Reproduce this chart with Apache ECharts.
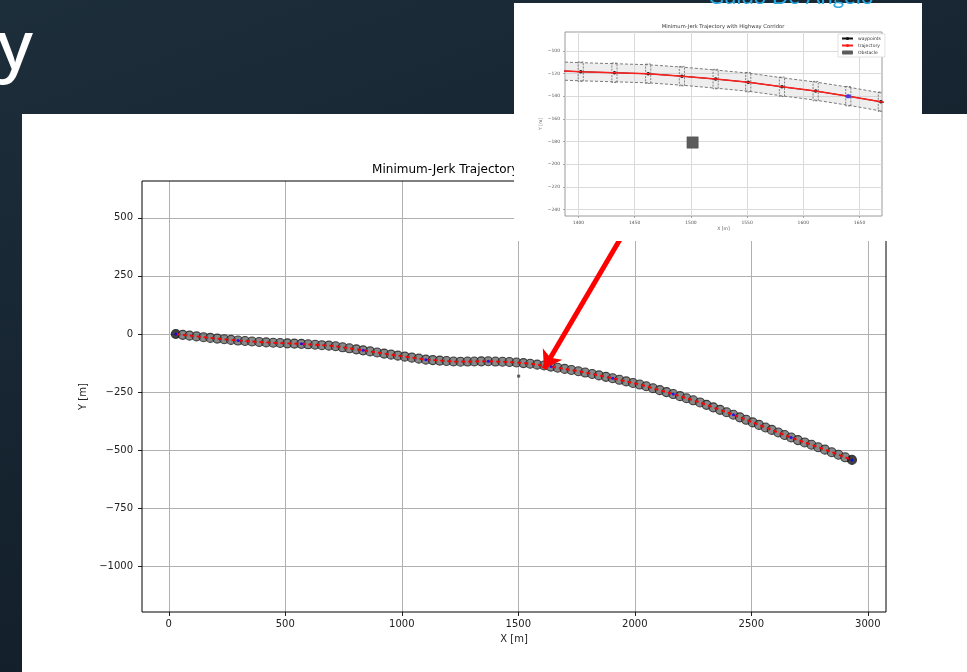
<!DOCTYPE html>
<html><head><meta charset="utf-8">
<script src="https://cdn.jsdelivr.net/npm/echarts@6/dist/echarts.min.js"></script>
<style>
html,body{margin:0;padding:0;width:967px;height:672px;overflow:hidden;background:linear-gradient(160deg,#1d2e3b 0%,#15232f 50%,#0f1b25 100%);}
#panel{position:absolute;left:22px;top:114px;width:945px;height:558px;background:#fff;}
#chart{position:absolute;left:0;top:0;width:967px;height:672px;}
</style></head><body>
<div id="panel"></div><div id="chart"></div>
<script>
// ---- data ----
const wpX = [30,60,89,119,149,178,208,238,267,
  297,327,357,388,418,448,478,509,539,
  569,598,628,657,687,716,746,775,805,
  834,864,894,924,954,983,1013,1043,1073,
  1103,1133,1163,1192,1222,1252,1282,1311,1341,
  1371,1402,1432,1462,1492,1522,1551,1581,1611,
  1640,1669,1699,1728,1758,1787,1817,1846,1876,
  1905,1934,1963,1992,2021,2049,2078,2107,2136,
  2165,2194,2222,2251,2280,2308,2337,2366,2394,
  2423,2451,2478,2506,2533,2561,2588,2616,2643,
  2671,2700,2729,2758,2787,2816,2845,2874,2903,2932];
const wpY = [0,-3.4,-6.8,-10.2,-13.5,-16.6,-19.5,-22.4,-25.1,
  -28,-30,-32,-34,-36,-37.6,-38.7,-39.9,-41,
  -42.2,-44.1,-46,-47.9,-49.8,-52.6,-57,-61.3,-65.7,
  -70,-74.6,-79.3,-84,-88.6,-92.9,-97.1,-101.4,-105.7,
  -110,-112,-114.1,-116.1,-118.1,-118.8,-118.3,-117.9,-117.4,
  -117,-118.3,-119.2,-120.1,-122.2,-124.8,-127.5,-131.6,-135.4,
  -139.9,-144.8,-149.9,-154.8,-159.8,-165.6,-171.8,-177.8,-184,
  -190,-196.8,-203.6,-210.4,-217.2,-224.5,-232.9,-241.3,-249.6,
  -258,-267.1,-275.8,-284.9,-294,-304.4,-315.1,-325.9,-336.2,
  -347,-358.1,-368.7,-379.8,-390.5,-401.6,-412.2,-423.3,-434,
  -445,-456,-466,-476,-486.5,-497,-508,-519,-530,-541];
const blueX = [30,297,569,834,1103,1371,1640,1905,2165,2423,2671,2932];
const blueY = [0,-28,-42.2,-70,-110,-117,-139.9,-190,-258,-347,-445,-541];
const obstacleX = [1501.5];
const obstacleY = [-180.8];
const corrX = [1388,1402,1432,1462,1492,1522,1551,1581,1611,1640,1670];
const corrUpper = [-109.8,-110.3,-111.2,-112.1,-114.2,-116.8,-119.5,-123.6,-127.4,-131.9,-137.1];
const corrLower = [-125.8,-126.3,-127.2,-128.1,-130.2,-132.8,-135.5,-139.6,-143.4,-147.9,-153.1];
const xTicks = [0,500,1000,1500,2000,2500,3000];
const yTicks = [-1000,-750,-500,-250,0,250,500];
const insetXTicks = [1400,1450,1500,1550,1600,1650];
const insetYTicks = [-240,-220,-200,-180,-160,-140,-120,-100];
const arrowFrom = [1950, 430];
const arrowTo = [1610, -149];

// ---- build ----
const wp = wpX.map((x,i)=>[x,wpY[i]]);
const blue = blueX.map((x,i)=>[x,blueY[i]]);
const obst = obstacleX.map((x,i)=>[x,obstacleY[i]]);
const upper = corrX.map((x,i)=>[x,corrUpper[i]]);
const lower = corrX.map((x,i)=>[x,corrLower[i]]);
const fmt = v => String(v).replace('-', '\u2212');
const FF = 'DejaVu Sans';

function obstacleItem(params, api){
  const x = api.value(0), y = api.value(1);
  const p1 = api.coord([x-5, y+5]), p2 = api.coord([x+5, y-5]);
  return {type:'rect', shape:{x:p1[0], y:p1[1], width:Math.max(p2[0]-p1[0],2), height:Math.max(p2[1]-p1[1],2)},
    style:{fill:api.visual('color'), stroke:params.seriesIndex>5?'#8a8a8a':'#555', lineWidth:0.6}};
}

const chart = echarts.init(document.getElementById('chart'), null, {renderer:'canvas'});
chart.setOption({
  animation:false,
  backgroundColor:'transparent',
  grid:[
    {left:142, top:181, width:744, height:431, show:true, borderColor:'#000', borderWidth:1, backgroundColor:'transparent', z:1},
    {left:565, top:32, width:317, height:184, show:true, borderColor:'#9a9a9a', borderWidth:1, backgroundColor:'#fff', z:51}
  ],
  xAxis:[
    {type:'value', gridIndex:0, min:-115, max:3078, axisLine:{show:false, onZero:false},
     axisTick:{show:true, length:4, lineStyle:{color:'#222'}, customValues:xTicks},
     axisLabel:{customValues:xTicks, fontSize:10, color:'#222', fontFamily:FF, margin:7, formatter:fmt},
     splitLine:{show:true, lineStyle:{color:'#b0b0b0', width:1}},
     name:'X [m]', nameLocation:'middle', nameGap:22, nameTextStyle:{fontSize:10, color:'#222', fontFamily:FF}},
    {type:'value', gridIndex:1, min:1388, max:1670, z:52, axisLine:{show:false, onZero:false},
     axisTick:{show:true, length:2, lineStyle:{color:'#777', width:0.6}, customValues:insetXTicks},
     axisLabel:{customValues:insetXTicks, fontSize:4.5, color:'#555', fontFamily:FF, margin:4, formatter:fmt},
     splitLine:{show:true, lineStyle:{color:'#dadada', width:1}},
     name:'X [m]', nameLocation:'middle', nameGap:9, nameTextStyle:{fontSize:4.5, color:'#555', fontFamily:FF}}
  ],
  yAxis:[
    {type:'value', gridIndex:0, min:-1195, max:658, axisLine:{show:false, onZero:false},
     axisTick:{show:true, length:4, lineStyle:{color:'#222'}, customValues:yTicks},
     axisLabel:{customValues:yTicks, fontSize:10, color:'#222', fontFamily:FF, margin:9, formatter:fmt},
     splitLine:{show:true, lineStyle:{color:'#b0b0b0', width:1}},
     name:'Y [m]', nameLocation:'middle', nameGap:50, nameTextStyle:{fontSize:10, color:'#222', fontFamily:FF}},
    {type:'value', gridIndex:1, min:-245.7, max:-83.2, z:52, axisLine:{show:false, onZero:false},
     axisTick:{show:true, length:2, lineStyle:{color:'#777', width:0.6}, customValues:insetYTicks},
     axisLabel:{customValues:insetYTicks, fontSize:4.5, color:'#555', fontFamily:FF, margin:5, formatter:fmt},
     splitLine:{show:true, lineStyle:{color:'#dadada', width:1}},
     name:'Y [m]', nameLocation:'middle', nameGap:18, nameTextStyle:{fontSize:4.5, color:'#555', fontFamily:FF}}
  ],
  legend:{data:['waypoints','trajectory','Obstacle'], orient:'vertical', left:838, top:34,
    itemWidth:11, itemHeight:4, itemGap:2, selectedMode:false,
    textStyle:{fontSize:4.5, color:'#333', fontFamily:FF},
    backgroundColor:'#fff', borderColor:'#cfcfcf', borderWidth:0.6, padding:[2,4,2,3], z:60},
  graphic:[
    {type:'rect', shape:{x:514, y:3, width:408, height:238}, style:{fill:'#fff'}, z:50},
    {type:'text', x:514, y:170, z:1, style:{text:'Minimum-Jerk Trajectory with Highway Corridor', fontSize:12, fontFamily:FF, fill:'#000', align:'center', verticalAlign:'middle', textAlign:'center', textVerticalAlign:'middle'}},
    {type:'text', x:723, y:27, z:55, style:{text:'Minimum-Jerk Trajectory with Highway Corridor', fontSize:5.2, fontFamily:FF, fill:'#333', align:'center', verticalAlign:'middle', textAlign:'center', textVerticalAlign:'middle'}},
    {type:'text', x:-3, y:50, z:5, style:{text:'y', fontSize:68, fontFamily:'Noto Sans', fontWeight:500, fill:'#fff', align:'left', verticalAlign:'middle', textAlign:'left', textVerticalAlign:'middle'}},
    {type:'text', x:708, y:-3, z:70, style:{text:'Guido De Angelo', fontSize:22, fontFamily:'Lato', fill:'#2aa8e0', align:'left', verticalAlign:'middle', textAlign:'left', textVerticalAlign:'middle'}}
  ],
  series:[
    // main chart
    {name:'main-markers', type:'scatter', xAxisIndex:0, yAxisIndex:0, z:3, symbolSize:9,
     data: wp.map((p,i)=>({value:p, itemStyle:(i===0||i===wp.length-1)?{color:'#111'}:undefined})),
     itemStyle:{color:'#6b6b6b', borderColor:'#1a1a1a', borderWidth:1.1}},
    {name:'main-trajectory', type:'line', xAxisIndex:0, yAxisIndex:0, z:4, data:wp, showSymbol:false, symbol:'none',
     lineStyle:{color:'#ff0000', width:1.8, type:[4,3]}},
    {name:'main-blue', type:'scatter', xAxisIndex:0, yAxisIndex:0, z:5, data:blue, symbolSize:3, itemStyle:{color:'#0000ff'}},
    {name:'main-obstacle', type:'custom', xAxisIndex:0, yAxisIndex:0, z:5, data:obst, renderItem:obstacleItem, itemStyle:{color:'#555'}},
    {name:'arrow', type:'lines', coordinateSystem:'cartesian2d', xAxisIndex:0, yAxisIndex:0, z:10,
     symbol:['none','arrow'], symbolSize:17,
     data:[{coords:[arrowFrom, arrowTo]}], lineStyle:{color:'#ff0000', width:5, opacity:1, curveness:0}},
    // inset
    {name:'Obstacle', type:'custom', xAxisIndex:1, yAxisIndex:1, z:56, data:obst, renderItem:obstacleItem, legendIcon:'rect',
     itemStyle:{color:'#5c5c5c'}},
    {name:'corridor', type:'custom', xAxisIndex:1, yAxisIndex:1, z:53, data:[[corrX[0], corrUpper[0]]], silent:true,
     renderItem:function(params, api){
       const pts = upper.map(p=>api.coord(p)).concat(lower.slice().reverse().map(p=>api.coord(p)));
       return {type:'polygon', shape:{points:pts}, style:{fill:'rgba(200,200,200,0.3)', stroke:'none'}};
     }},
    {name:'corr-upper', type:'line', xAxisIndex:1, yAxisIndex:1, z:54, data:upper, symbol:'none', lineStyle:{color:'#7a7a7a', width:1, type:[3,2]}},
    {name:'corr-lower', type:'line', xAxisIndex:1, yAxisIndex:1, z:54, data:lower, symbol:'none', lineStyle:{color:'#7a7a7a', width:1, type:[3,2]}},
    {name:'boxes', type:'custom', xAxisIndex:1, yAxisIndex:1, z:55, clip:true, data:wp.filter(p=>p[0]>=1388 && p[0]<=1670),
     renderItem:function(params, api){
       const x = api.value(0), y = api.value(1);
       const p1 = api.coord([x-2.3, y+8.6]), p2 = api.coord([x+2.3, y-8.6]);
       return {type:'rect', shape:{x:p1[0], y:p1[1], width:p2[0]-p1[0], height:p2[1]-p1[1]},
         style:{fill:'none', stroke:'#666', lineWidth:0.8, lineDash:[2,1.2]}};
     }},
    {name:'waypoints', type:'line', xAxisIndex:1, yAxisIndex:1, z:56, data:wp, symbol:'circle', symbolSize:3.5, showSymbol:true,
     itemStyle:{color:'#111'}, lineStyle:{color:'#111', width:1}},
    {name:'trajectory', type:'line', xAxisIndex:1, yAxisIndex:1, z:57, data:wp, symbol:'none', showSymbol:false,
     itemStyle:{color:'#ff2020'}, lineStyle:{color:'#ff2020', width:1.5}},
    {name:'inset-blue', type:'scatter', xAxisIndex:1, yAxisIndex:1, z:58, data:blue, symbol:'circle', symbolSize:[6,4], itemStyle:{color:'#3a3aff'}}
  ]
});
</script>
</body></html>
